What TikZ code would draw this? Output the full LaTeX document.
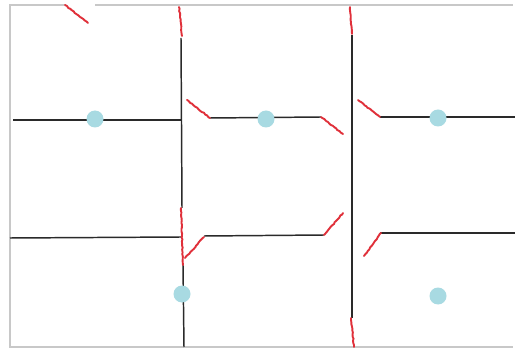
\documentclass[tikz,border=0pt]{standalone}
\usepackage{xcolor}
\usepackage{tikz}
\usetikzlibrary{decorations.pathmorphing}
\definecolor{planwall}{HTML}{2A2A2A}
\definecolor{plandoor}{HTML}{E0303A}
\definecolor{planpin}{HTML}{A8DAE2}
\definecolor{planedge}{HTML}{C8C8C8}
\tikzset{
  edge/.style={draw=planedge,line width=1.5pt},
  wall/.style={draw=planwall,line width=2.1pt},
  door/.style={draw=plandoor,line width=2.7pt,line cap=round,decorate,decoration={random steps,segment length=3,amplitude=0.6}},
  pin/.style={fill=planpin},
}
\begin{document}
\begin{tikzpicture}[x=0.05cm,y=-0.05cm]
  \useasboundingbox[fill=white] (0,0) rectangle (515,348);
  \draw[edge] (65,5) -- (10,5) -- (10,347) -- (513,347);
  \draw[edge] (95,5) -- (513,5);

  \draw[wall] (181,38) -- (182,208);
  \draw[wall] (183,265) -- (184,347);
  \draw[wall] (352,35) -- (352,318);
  \draw[wall] (13,120) -- (181,120);
  \draw[wall] (210,118) -- (321,117);
  \draw[wall] (380,117) -- (515,117);
  \draw[wall] (10,238) -- (181,237);
  \draw[wall] (204,236) -- (324,235);
  \draw[wall] (380,233) -- (515,233);

  \draw[door] (65,5) -- (88,23);
  \draw[door] (179,7) -- (182,36);
  \draw[door] (350,7) -- (352,34);
  \draw[door] (187,100) -- (210,118);
  \draw[door] (321,117) -- (343,134);
  \draw[door] (358,100) -- (380,117);
  \draw[door] (181,208) -- (183,265);
  \draw[door] (185,258) -- (204,237);
  \draw[door] (324,235) -- (343,213);
  \draw[door] (364,256) -- (381,233);
  \draw[door] (351,318) -- (354,347);

  \foreach \px/\py in {95/119,266/119,438/118,182/294,438/296}
    \fill[pin] (\px,\py) circle (8.5);
\end{tikzpicture}
\end{document}
